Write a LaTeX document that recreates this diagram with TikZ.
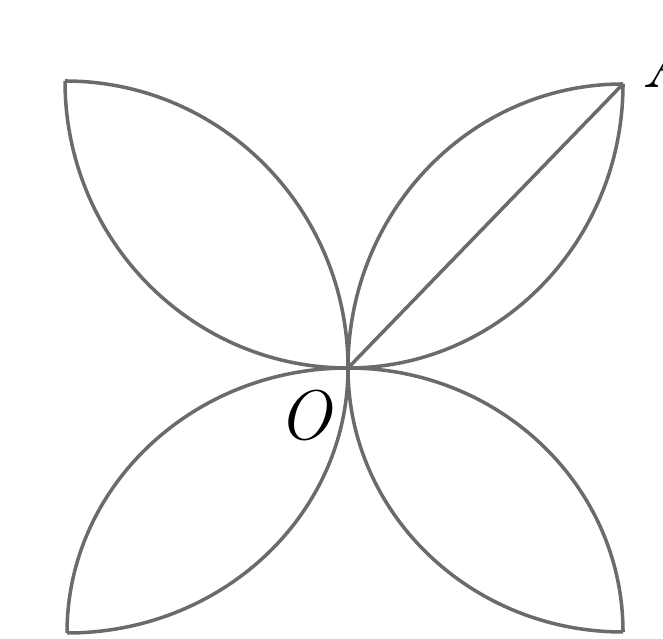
\documentclass[tikz,border=0pt]{standalone}
\usepackage{tikz}
\tikzset{
  petal/.style={draw=black!58, line width=3pt, line join=round},
  lbl/.style={font=\fontsize{60}{70}\selectfont\itshape, inner sep=0pt}
}
\begin{document}
\begin{tikzpicture}[scale=0.3]
  \useasboundingbox (0,0) rectangle (66.3,63.8);
  \clip (0,0) rectangle (66.3,63.8);
  % centre and outer corners
  \coordinate (O) at (34.8,27.0);
  \coordinate (A) at (62.3,55.4);
  \coordinate (tl) at (6.5,55.7);
  \coordinate (bl) at (6.7,0.5);
  \coordinate (br) at (62.3,0.6);

  % top right petal
  \draw[petal] (O) arc[start angle=180,end angle=90,x radius=27.5,y radius=28.4];
  \draw[petal] (O) arc[start angle=270,end angle=360,x radius=27.5,y radius=28.4];
  \draw[petal] (O) -- (A);
  % top left petal
  \draw[petal] (O) arc[start angle=0,end angle=90,x radius=28.3,y radius=28.7];
  \draw[petal] (O) arc[start angle=270,end angle=180,x radius=28.3,y radius=28.7];
  % bottom left petal
  \draw[petal] (O) arc[start angle=0,end angle=-90,x radius=28.1,y radius=26.5];
  \draw[petal] (O) arc[start angle=90,end angle=180,x radius=28.1,y radius=26.5];
  % bottom right petal
  \draw[petal] (O) arc[start angle=180,end angle=270,x radius=27.5,y radius=26.4];
  \draw[petal] (O) arc[start angle=90,end angle=0,x radius=27.5,y radius=26.4];

  % labels
  \node[lbl] (lO) at (30.5,22.3) {O};
  \node[lbl, anchor=base west] (lA) at (64.1,55.0) {A};
\end{tikzpicture}
\end{document}
